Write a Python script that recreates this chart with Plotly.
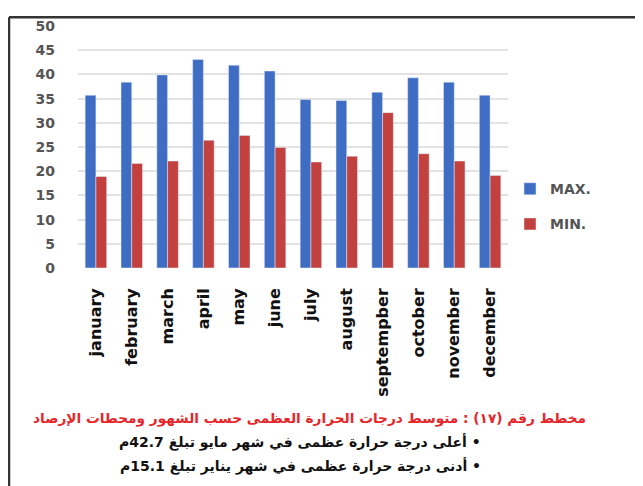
import plotly.graph_objects as go

months = ["january", "february", "march", "april", "may", "june", "july",
          "august", "septempber", "october", "november", "december"]
max_vals = [35.7, 38.4, 39.9, 43.1, 41.9, 40.7, 34.8, 34.6, 36.3, 39.3, 38.4, 35.7]
min_vals = [18.9, 21.6, 22.1, 26.4, 27.4, 24.9, 21.9, 23.1, 32.1, 23.6, 22.1, 19.1]
y_ticks = [0, 5, 10, 15, 20, 25, 30, 35, 40, 45, 50]

caption = "مخطط رقم (١٧) : متوسط درجات الحرارة العظمى حسب الشهور ومحطات الإرصاد"
line1 = "\u200f• أعلى درجة حرارة عظمى في شهر مايو تبلغ 42.7م"
line2 = "\u200f• أدنى درجة حرارة عظمى في شهر يناير تبلغ 15.1م"

OFF = 8  # page body margin
W, H = 635, 478
L, R, T, B = 78 - OFF, 135, 18 - OFF, 218
PW, PH = W - L - R, H - T - B

def px(x):
    return (x - OFF - L) / PW

def py(y):
    return (H - B - (y - OFF)) / PH

fig = go.Figure()
fig.add_trace(go.Bar(x=months, y=max_vals, name="MAX.", marker_color="#3F6DC4",
                     legendgroup="a"))
fig.add_trace(go.Bar(x=months, y=min_vals, name="MIN.", marker_color="#C2403D",
                     legendgroup="b"))

fig.update_layout(
    width=W, height=H,
    margin=dict(l=L, r=R, t=T, b=B),
    paper_bgcolor="white", plot_bgcolor="white",
    barmode="group", bargap=0.4, bargroupgap=0.0,
    showlegend=True,
    legend=dict(x=px(510), y=py(170), xanchor="left", yanchor="top",
                font=dict(family="DejaVu Sans", size=14, color="#555555", weight="bold"),
                tracegroupgap=14, bgcolor="rgba(0,0,0,0)"),
    font=dict(family="DejaVu Sans"),
)
fig.update_xaxes(
    tickangle=-90, showgrid=False, showline=False, ticks="", ticklabelstandoff=16,
    tickfont=dict(family="DejaVu Sans", size=16, color="#111111", weight="bold"),
)
fig.update_yaxes(
    range=[0, 50], tickvals=y_ticks, showgrid=True, gridcolor="#E2E2E2", gridwidth=1.5,
    zeroline=False, showline=False, ticks="", ticklabelstandoff=22,
    tickfont=dict(family="DejaVu Sans", size=14, color="#555555", weight="bold"),
)

fig.add_annotation(text=caption, xref="paper", yref="paper", x=px(309), y=py(423),
                   showarrow=False, xanchor="center", yanchor="middle",
                   font=dict(family="DejaVu Sans", size=13.7, color="#E5262B", weight="bold"))
for txt, yy in [(line1, 448), (line2, 473)]:
    fig.add_annotation(text=txt, xref="paper", yref="paper", x=px(300), y=py(yy),
                       showarrow=False, xanchor="center", yanchor="middle",
                       font=dict(family="DejaVu Sans", size=14, color="#111111", weight="bold"))

frame = dict(color="#333333", width=2.5)
fig.add_shape(type="line", xref="paper", yref="paper",
              x0=px(9), x1=px(9), y0=py(9), y1=py(500), line=frame)
fig.add_shape(type="line", xref="paper", yref="paper",
              x0=px(9), x1=px(660), y0=py(9), y1=py(9), line=frame)

fig.write_html("out.html")
